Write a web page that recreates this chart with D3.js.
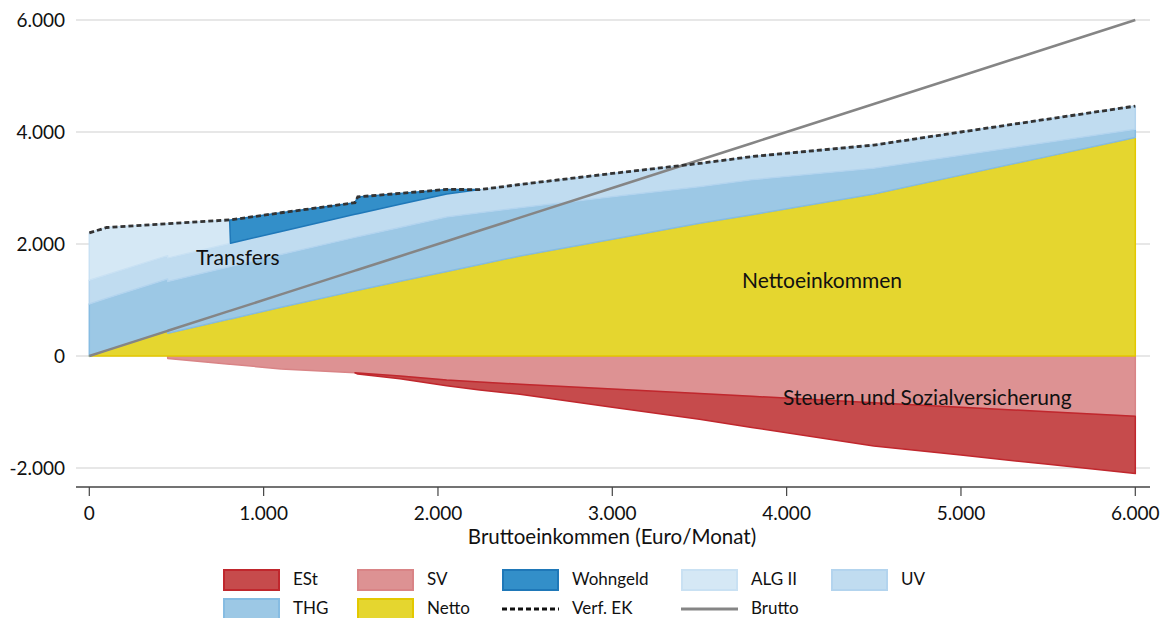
<!DOCTYPE html>
<html><head><meta charset="utf-8">
<script src="https://cdn.jsdelivr.net/npm/d3@7"></script>
<style>body{margin:0;background:#fff;} text{font-family:Lato,"Open Sans",sans-serif;fill:#111;}</style>
</head><body><svg id="c" width="1163" height="618"></svg>
<script>
// ---- data (Euro / Monat) ----
const brutto   = [0, 100, 449, 450, 805, 810, 1100, 1524, 1540, 1782, 2050, 2240, 2470, 3000, 3500, 3800, 4500, 5000, 5500, 6000];
const netto    = [0, 100, 449, 405, 659, 662, 870, 1163, 1174, 1333, 1509, 1634, 1786, 2085, 2369, 2523, 2893, 3230, 3565, 3900];
const thg      = [930, 930, 925, 925, 935, 935, 941, 955, 955, 963, 973, 923, 862, 760, 655, 623, 458, 355, 251, 148];
const uv       = [423, 420, 418, 418, 415, 415, 413, 412, 412, 412, 412, 414, 415, 415, 415, 415, 415, 415, 415, 415];
const alg2     = [845, 845, 571, 615, 421, 0, 0, 0, 0, 0, 0, 0, 0, 0, 0, 0, 0, 0, 0, 0];
const wohngeld = [0, 0, 0, 0, 0, 418, 334, 208, 300, 196, 81, 0, 0, 0, 0, 0, 0, 0, 0, 0];
const sv       = [0, 0, 0, 45, 146, 148, 230, 300, 303, 355, 430, 465, 505, 590, 670, 720, 835, 915, 995, 1075];
const est      = [0, 0, 0, 0, 0, 0, 0, 0, 20, 50, 100, 141, 179, 325, 461, 557, 772, 855, 940, 1025];
const xTicks = [0, 1000, 2000, 3000, 4000, 5000, 6000];
const yTicks = [-2000, 0, 2000, 4000, 6000];
const legendLabels = ["ESt", "SV", "Wohngeld", "ALG II", "UV", "THG", "Netto", "Verf. EK", "Brutto"];

(function(){
// ---- styles ----
const fills   = {est:"#c64b4c", sv:"#dd9293", wohngeld:"#338fc9", alg2:"#d5e8f5", uv:"#c0dcf0", thg:"#9cc8e5", netto:"#e5d62f"};
const strokes = {est:"#c0272d", sv:"#d98486", wohngeld:"#1f78b8", alg2:"#c9e1f3", uv:"#b3d4ee", thg:"#86bce2", netto:"#e3c800"};

const rows = brutto.map((b,i)=>({brutto:b, netto:netto[i], thg:thg[i], uv:uv[i], alg2:alg2[i], wohngeld:wohngeld[i], sv:sv[i], est:est[i]}));

const svg = d3.select("#c");
const x = d3.scaleLinear().domain([0,6000]).range([89.3,1135.3]);
const y = d3.scaleLinear().domain([-2000,6000]).range([468,20]);
const loc = d3.formatLocale({decimal:",", thousands:".", grouping:[3], currency:["","€"], minus:"-"});
const fmt = loc.format(",d");
const gx0 = 76, gx1 = 1150;

// gridlines + y labels
const gy = svg.append("g");
yTicks.forEach(t=>{
  gy.append("line").attr("x1",gx0).attr("x2",gx1).attr("y1",y(t)).attr("y2",y(t)).attr("stroke","#cfcfcf").attr("stroke-width",1.2);
  gy.append("text").attr("x",65).attr("y",y(t)).attr("dy","0.35em").attr("text-anchor","end").style("font-size","19px").text(fmt(t));
});

// stacks (negative stack built on magnitudes, drawn below zero)
const posKeys = ["netto","thg","uv","alg2","wohngeld"];
const negKeys = ["sv","est"];
const posStack = d3.stack().keys(posKeys)(rows);
const negStack = d3.stack().keys(negKeys)(rows);

function drawLayer(layer, sign){
  const key = layer.key;
  const vals = rows.map(r=>r[key]);
  const def = (d,i)=> vals[i]>0 || (i>0 && vals[i-1]>0) || (i<vals.length-1 && vals[i+1]>0);
  const area = d3.area().defined(def)
     .x((d,i)=>x(rows[i].brutto)).y0(d=>y(sign*d[0])).y1(d=>y(sign*d[1]));
  svg.append("path").datum(layer).attr("d",area)
     .attr("fill",fills[key]).attr("stroke",strokes[key]).attr("stroke-width",1.5).attr("stroke-linejoin","round");
}
negStack.forEach(l=>drawLayer(l,-1));
posStack.forEach(l=>drawLayer(l,1));

// Brutto line
svg.append("path").datum(rows)
  .attr("d", d3.line().x(d=>x(d.brutto)).y(d=>y(d.brutto)))
  .attr("fill","none").attr("stroke","#858585").attr("stroke-width",2.5);

// Verf. EK dashed (top of positive stack)
const topLayer = posStack[posStack.length-1];
svg.append("path").datum(topLayer)
  .attr("d", d3.line().x((d,i)=>x(rows[i].brutto)).y(d=>y(d[1])))
  .attr("fill","none").attr("stroke","#333").attr("stroke-width",2.8).attr("stroke-dasharray","5,3");

// x axis
const axisY = y(-2340);
svg.append("line").attr("x1",gx0).attr("x2",gx1).attr("y1",axisY).attr("y2",axisY).attr("stroke","#444").attr("stroke-width",1.6);
xTicks.forEach(t=>{
  svg.append("line").attr("x1",x(t)).attr("x2",x(t)).attr("y1",axisY).attr("y2",axisY+9).attr("stroke","#444").attr("stroke-width",1.2);
  svg.append("text").attr("x",x(t)).attr("y",axisY+26).attr("dy","0.35em").attr("text-anchor","middle").style("font-size","19px").text(fmt(t));
});
svg.append("text").attr("x",612).attr("y",537).attr("dy","0.35em").attr("text-anchor","middle").style("font-size","20.5px").text("Bruttoeinkommen (Euro/Monat)");

// annotations
svg.append("text").attr("x",196).attr("y",258).attr("dy","0.35em").style("font-size","21px").text("Transfers");
svg.append("text").attr("x",742).attr("y",281).attr("dy","0.35em").style("font-size","21px").text("Nettoeinkommen");
svg.append("text").attr("x",783).attr("y",398).attr("dy","0.35em").style("font-size","21px").text("Steuern und Sozialversicherung");

// legend
const legKeys = ["est","sv","wohngeld","alg2","uv","thg","netto","verf","brutto"];
const colX = [223, 357, 502, 681, 831];
const rowY = [569, 598];
legKeys.forEach((k,i)=>{
  const cx = colX[i%5], ry = rowY[Math.floor(i/5)];
  const g = svg.append("g");
  if(k==="verf"){
    g.append("line").attr("x1",cx).attr("x2",cx+57).attr("y1",ry+11).attr("y2",ry+11).attr("stroke","#111").attr("stroke-width",2.8).attr("stroke-dasharray","5,3");
  } else if(k==="brutto"){
    g.append("line").attr("x1",cx).attr("x2",cx+57).attr("y1",ry+11).attr("y2",ry+11).attr("stroke","#858585").attr("stroke-width",3);
  } else {
    g.append("rect").attr("x",cx+1).attr("y",ry+1).attr("width",55).attr("height",20).attr("fill",fills[k]).attr("stroke",strokes[k]).attr("stroke-width",2);
  }
  g.append("text").attr("x",cx+70).attr("y",ry+10).attr("dy","0.35em").style("font-size","17px").text(legendLabels[i]);
});
})();
</script></body></html>
